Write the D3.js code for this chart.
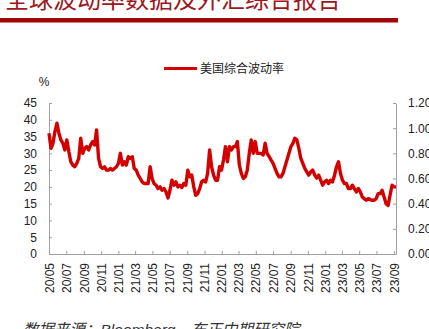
<!DOCTYPE html>
<html>
<head>
<meta charset="utf-8">
<script src="https://cdn.jsdelivr.net/npm/d3@7"></script>
<style>
  html, body { margin: 0; padding: 0; background: #fff; }
  svg { display: block; }
</style>
</head>
<body>
<script>
// Weekly closes of the US composite volatility index, starting 2020-05-01
const seriesName = "美国综合波动率";
const seriesStart = "2020-05-01";
const volValues = [
  36, 31.5, 33, 36.5, 39, 36, 34, 33, 31, 34,
  30.5, 27.5, 26.5, 26, 27, 28.5, 34.5, 30, 31.5, 32,
  31, 32.5, 33.5, 32.5, 37, 28.5, 26, 25.5, 26, 25,
  25, 25.5, 25, 25.5, 26, 27, 30, 26.5, 27.5, 26.5,
  29, 28.5, 29, 25.5, 25, 23.5, 22.5, 21.5, 21, 21,
  21, 26, 22.5, 21, 20.5, 19.5, 20, 19, 19.5, 18.5,
  16.7, 19, 22, 20.5, 21.5, 20, 20.5, 19.8, 21, 20.5,
  25, 23, 23.5, 20, 17.5, 18, 19.5, 21.5, 22, 21.5,
  24, 31, 26, 23.5, 22, 22, 26, 25, 28, 32,
  27.5, 32, 31, 32, 32, 33.5, 26.5, 24, 22.5, 23,
  25, 30, 34, 30, 33.5, 30, 30, 30, 29.5, 33,
  30, 29, 28, 27, 25.5, 24, 23, 23, 24, 26,
  28, 30, 32, 33, 34.5, 34, 31.5, 28.5, 27, 25.5,
  24.5, 23.5, 24.5, 25, 23.5, 22.6, 23.5, 22, 20.5, 21.5,
  22, 21, 22, 21.5, 23.5, 26, 27.5, 24, 22, 21,
  21, 19.5, 19.5, 20.5, 19.5, 18.5, 19.5, 18.5, 17, 16.5,
  16, 16.5, 16.2, 16, 16, 16.5, 18, 18, 19, 17,
  15, 14.5, 17.5, 20.5, 20, 20
];
const xTickLabels = [
  "20/05","20/07","20/09","20/11","21/01","21/03","21/05","21/07","21/09","21/11",
  "22/01","22/03","22/05","22/07","22/09","22/11","23/01","23/03","23/05","23/07","23/09"
];
const leftTicks = [0, 5, 10, 15, 20, 25, 30, 35, 40, 45];
const rightTicks = [0, 0.2, 0.4, 0.6, 0.8, 1.0, 1.2];
const titleText = "全球波动率数据及外汇综合报告";
const sourceText = "数据来源：Bloomberg，东正中期研究院";

const W = 429, H = 329;
const plot = { left: 49, right: 396, top: 103, bottom: 254 };
const red = "#d40000";
const axisGrey = "#a0a0a0";
const labelFont = "'Liberation Sans', Arial, 'Noto Sans CJK SC', sans-serif";

const parseDay = d3.timeParse("%Y-%m-%d");
const parseTick = d3.timeParse("%y/%m");
const t0 = parseDay(seriesStart);
const data = volValues.map((v, i) => ({ date: d3.timeDay.offset(t0, i * 7), value: v }));

const svg = d3.select("body").append("svg").attr("width", W).attr("height", H);

// Header: title and the red rule beneath it
svg.append("text")
  .attr("x", 5).attr("y", 7.5)
  .attr("font-family", "'Noto Sans CJK SC', sans-serif")
  .attr("font-size", 24)
  .attr("fill", "#a0161b")
  .text(titleText);
svg.append("rect")
  .attr("x", 0).attr("y", 18).attr("width", 398).attr("height", 4.5)
  .attr("fill", "#a00808");

// Scales
const x = d3.scaleTime()
  .domain([t0, parseDay("2023-09-08")])
  .range([plot.left, plot.right]);
const yL = d3.scaleLinear().domain([0, 45]).range([plot.bottom, plot.top]);
const yR = d3.scaleLinear().domain([0, 1.2]).range([plot.bottom, plot.top]);

function styleAxis(g) {
  g.select(".domain").attr("stroke", axisGrey).attr("stroke-width", 1);
  g.selectAll(".tick line").attr("stroke", axisGrey);
  g.selectAll(".tick text")
    .attr("fill", "#222")
    .attr("font-family", labelFont)
    .attr("font-size", 12);
}

// Left axis (ticks point inward)
const gL = svg.append("g")
  .attr("transform", `translate(${plot.left},0)`)
  .call(d3.axisRight(yL).tickValues(leftTicks).tickSize(3).tickSizeOuter(0).tickFormat(d3.format("d")));
styleAxis(gL);
gL.selectAll(".tick text").attr("x", -12).attr("text-anchor", "end");

// Right axis (ticks point inward)
const gR = svg.append("g")
  .attr("transform", `translate(${plot.right},0)`)
  .call(d3.axisLeft(yR).tickValues(rightTicks).tickSize(3).tickSizeOuter(0).tickFormat(d3.format(".2f")));
styleAxis(gR);
gR.selectAll(".tick text").attr("x", 12).attr("text-anchor", "start");

// Bottom date axis with rotated labels
const gX = svg.append("g")
  .attr("transform", `translate(0,${plot.bottom})`)
  .call(d3.axisTop(x).tickValues(xTickLabels.map(parseTick)).tickSize(3).tickSizeOuter(0)
    .tickFormat(d3.timeFormat("%y/%m")));
styleAxis(gX);
gX.selectAll(".tick text")
  .attr("transform", "rotate(-90)")
  .attr("x", -9).attr("y", 0).attr("dy", "0.35em")
  .attr("text-anchor", "end");

// Unit label
svg.append("text")
  .attr("x", 44).attr("y", 86)
  .attr("text-anchor", "middle")
  .attr("font-family", labelFont).attr("font-size", 12).attr("fill", "#222")
  .text("%");

// Series line
const line = d3.line().x(d => x(d.date)).y(d => yL(d.value)).curve(d3.curveLinear);
svg.append("path")
  .datum(data)
  .attr("d", line)
  .attr("fill", "none")
  .attr("stroke", red)
  .attr("stroke-width", 3.4)
  .attr("stroke-linejoin", "round");

// Legend
const lg = svg.append("g").attr("transform", "translate(164,68.5)");
lg.append("line").attr("x1", 0).attr("x2", 33).attr("y1", 0).attr("y2", 0)
  .attr("stroke", red).attr("stroke-width", 3);
lg.append("text").attr("x", 36).attr("y", 0).attr("dy", "0.35em")
  .attr("font-family", "'Noto Sans CJK SC', sans-serif")
  .attr("font-size", 12).attr("fill", "#222")
  .text(seriesName);

// Source note
svg.append("text")
  .attr("x", 23).attr("y", 335)
  .attr("font-family", labelFont)
  .attr("font-size", 15.5).attr("font-style", "italic").attr("fill", "#333")
  .text(sourceText);
</script>
</body>
</html>
